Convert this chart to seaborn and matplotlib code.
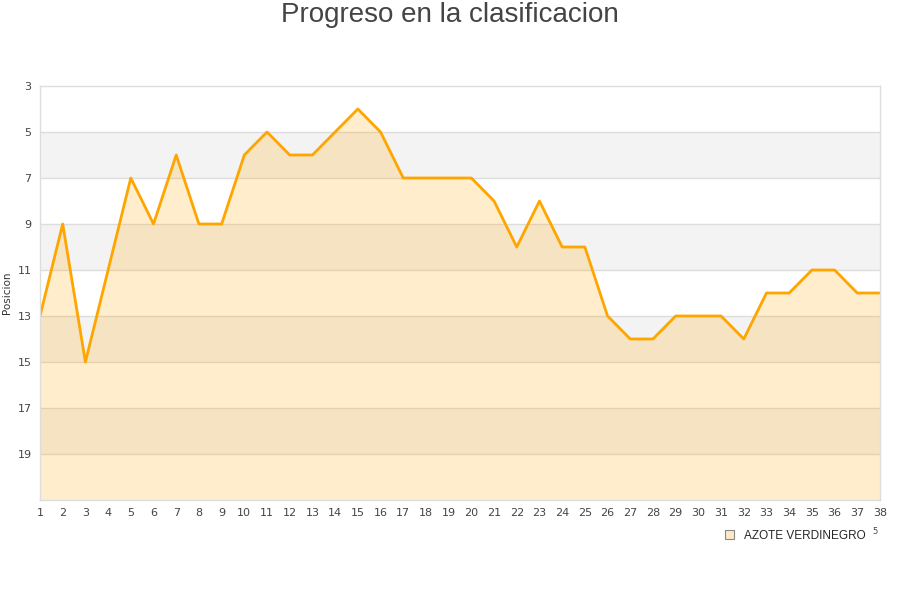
import numpy as np
import pandas as pd
import matplotlib
matplotlib.use("Agg")
import matplotlib.pyplot as plt
import seaborn as sns
from matplotlib.patches import Patch

jornadas = list(range(1, 39))
posiciones = [13, 9, 15, 11, 7, 9, 6, 9, 9, 6, 5, 6, 6, 5, 4, 5, 7, 7, 7, 7,
              8, 10, 8, 10, 10, 13, 14, 14, 13, 13, 13, 14, 12, 12, 11, 11, 12, 12]
equipo = "AZOTE VERDINEGRO"
y_ticks = [3, 5, 7, 9, 11, 13, 15, 17, 19]

df = pd.DataFrame({"Jornada": jornadas, "Posicion": posiciones, "Equipo": equipo})

sns.set_theme(style="white")
plt.rcParams["font.family"] = ["DejaVu Sans"]

fig = plt.figure(figsize=(9, 6), dpi=100)
ax = fig.add_axes([40 / 900, 100 / 600, 840 / 900, 414 / 600])

# alternating bands
for lo in range(5, 21, 4):
    ax.axhspan(lo, lo + 2, color="#f3f3f3", zorder=0, lw=0)
for y in y_ticks[1:]:
    ax.axhline(y, color="#dddddd", lw=1, zorder=0.5)

ax.fill_between(df["Jornada"], df["Posicion"], 21, color="#ffa500", alpha=0.2, lw=0, zorder=1)
sns.lineplot(data=df, x="Jornada", y="Posicion", color="#ffa500", lw=2, ax=ax, zorder=2, legend=False)

ax.set_xlim(1, 38)
ax.set_ylim(21, 3)
ax.set_xticks(jornadas)
ax.set_yticks(y_ticks)
ax.tick_params(axis="both", labelsize=8, colors="#444444", length=0, pad=6)
ax.set_xlabel("")
ax.set_ylabel("Posicion", fontsize=7.5, color="#333333", labelpad=4)
for s in ax.spines.values():
    s.set_color("#dddddd")
    s.set_linewidth(1)

fig.text(0.5, 1 - 15 / 600, "Progreso en la clasificacion", fontsize=20, color="#444444",
         family=["Liberation Sans", "DejaVu Sans"], ha="center", va="center")

handle = Patch(facecolor="#fde9c6", edgecolor="#888888", lw=0.8)
fig.legend([handle], [equipo], loc="center", bbox_to_anchor=(795 / 900, 1 - 536 / 600),
           frameon=False, handlelength=0.8, handleheight=0.8,
           prop={"family": ["Liberation Sans", "DejaVu Sans"], "size": 8.5})
fig.text(875 / 900, 1 - 532 / 600, "5", fontsize=6, color="#444444", ha="center", va="center")

fig.savefig("out.png", dpi=100)
